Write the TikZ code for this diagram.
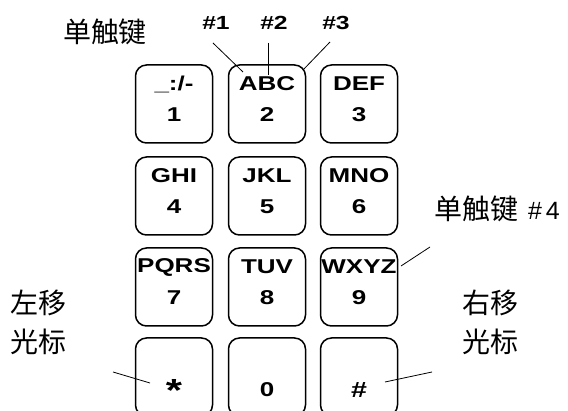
\documentclass[tikz,border=0pt]{standalone}
\usepackage{fontspec}
\setmainfont{Liberation Sans}
\newfontfamily\keyfont{Liberation Sans}[FakeStretch=1.3]
\newfontfamily\cjk{Noto Sans CJK SC}
\usetikzlibrary{positioning}
\tikzset{
  keycap/.style={draw,line width=1.5pt,rounded corners=11pt,
    minimum width=77pt,minimum height=78pt,inner sep=0pt},
  keytext/.style={font=\keyfont\fontsize{20}{20}\selectfont\bfseries},
  note/.style={font=\cjk\fontsize{28}{39}\selectfont},
  tag/.style={font=\keyfont\fontsize{19}{19}\selectfont\bfseries},
  pointer/.style={line width=0.8pt},
}

\begin{document}
\begin{tikzpicture}[x=1pt,y=-1pt]
  \useasboundingbox (0,0) rectangle (568,411);
  % keypad, three rows with letters
  \foreach \name/\x/\y/\letters/\digit in {
      k1/174/104/{\_:/-}/1, k2/267/104/ABC/2, k3/359/104/DEF/3,
      k4/174/196/GHI/4, k5/267/196/JKL/5, k6/359/196/MNO/6,
      k7/174/287/PQRS/7, k8/267/287/TUV/8, k9/359/287/WXYZ/9}{
    \node[keycap] (\name) at (\x,\y) {};
    \node[keytext] (\name l) at ([yshift=20pt]\name) {\letters};
    \node[keytext] (\name d) at ([yshift=-11pt]\name) {\digit};
  }
  % bottom row
  \foreach \name/\x/\sym in {kstar/174/{\raisebox{-11pt}{\fontsize{32}{32}\selectfont *}},
      kzero/267/0, khash/359/{\fontsize{22}{22}\selectfont\#}}{
    \node[keycap] (\name) at (\x,377) {};
    \node[keytext] (\name d) at ([yshift=-13pt]\name) {\sym};
  }

  % labels
  \node[note] (single) at (105,32) {单触键};
  \node[tag] (t1) at (216,23) {\#1};
  \node[tag] (t2) at (274,23) {\#2};
  \node[tag] (t3) at (336,23) {\#3};
  \node[note] (single4) at (497,209)
    {单触键\hspace{10pt}{\rmfamily\fontsize{25}{25}\selectfont\#\hspace{4pt}4}};
  \node[note,align=center] (left) at (38,322) {左移\\光标};
  \node[note,align=center] (right) at (490,322) {右移\\光标};

  % pointers
  \coordinate (a1) at (213,43);  \coordinate (b1) at (243,72);
  \coordinate (a2) at (268,43);  \coordinate (b2) at (268,75);
  \coordinate (a3) at (330,42);  \coordinate (b3) at (303,70);
  \coordinate (a4) at (430,247); \coordinate (b4) at (401,266);
  \coordinate (aL) at (113,372); \coordinate (bL) at (150,383);
  \coordinate (aR) at (432,372); \coordinate (bR) at (385,382);
  \foreach \i in {1,2,3,4,L,R}
    \draw[pointer] (a\i) -- (b\i);
\end{tikzpicture}
\end{document}
